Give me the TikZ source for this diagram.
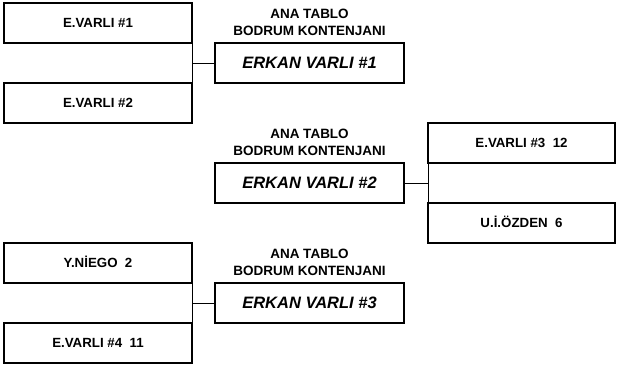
\documentclass[tikz,border=0pt]{standalone}
\usepackage{fontspec}
\setmainfont{Liberation Sans}
\usetikzlibrary{positioning}
\begin{document}
\begin{tikzpicture}[x=1pt,y=-1pt,
  pbox/.style={draw, line width=2pt, minimum width=188pt, minimum height=40pt, inner sep=0pt, outer sep=0pt,
    font=\fontsize{13.3}{15}\selectfont\bfseries, text height=9.6pt, text depth=0pt},
  ebox/.style={pbox, minimum width=189pt, font=\fontsize{16.5}{18}\selectfont\bfseries\itshape, text height=11.8pt},
  lbl/.style={inner sep=0pt, outer sep=0pt, align=center, font=\fontsize{13.5}{17}\selectfont\bfseries},
  conn/.style={line width=1pt}]
\useasboundingbox (0,0) rectangle (620,367);
\node[pbox] (a1) at (98,23) {E.VARLI \#1};
\node[pbox] (a2) at (98,103) {E.VARLI \#2};
\node[ebox] (e1) at (309.5,63) {ERKAN VARLI \#1};
\node[lbl, above=7pt of e1] (l1) {ANA TABLO\\BODRUM KONTENJANI};

\node[ebox] (e2) at (309.5,183) {ERKAN VARLI \#2};
\node[lbl, above=7pt of e2] (l2) {ANA TABLO\\BODRUM KONTENJANI};
\node[pbox, minimum width=187pt] (b3) at (521.5,143) {E.VARLI \#3\ \ 12};
\node[pbox, minimum width=187pt] (b4) at (521.5,223) {U.İ.ÖZDEN\ \ 6};

\node[pbox] (y1) at (98,263) {Y.NİEGO\ \ 2};
\node[pbox] (y2) at (98,343) {E.VARLI \#4\ \ 11};
\node[ebox] (e3) at (309.5,303) {ERKAN VARLI \#3};
\node[lbl, above=7pt of e3] (l3) {ANA TABLO\\BODRUM KONTENJANI};

\draw[conn] (a1.south east) -- (a2.north east);
\draw[conn] (e1.west) -- (e1.west -| a1.east);
\draw[conn] (b3.south west) -- (b4.north west);
\draw[conn] (e2.east) -- (e2.east -| b3.west);
\draw[conn] (y1.south east) -- (y2.north east);
\draw[conn] (e3.west) -- (e3.west -| y1.east);
\end{tikzpicture}
\end{document}
